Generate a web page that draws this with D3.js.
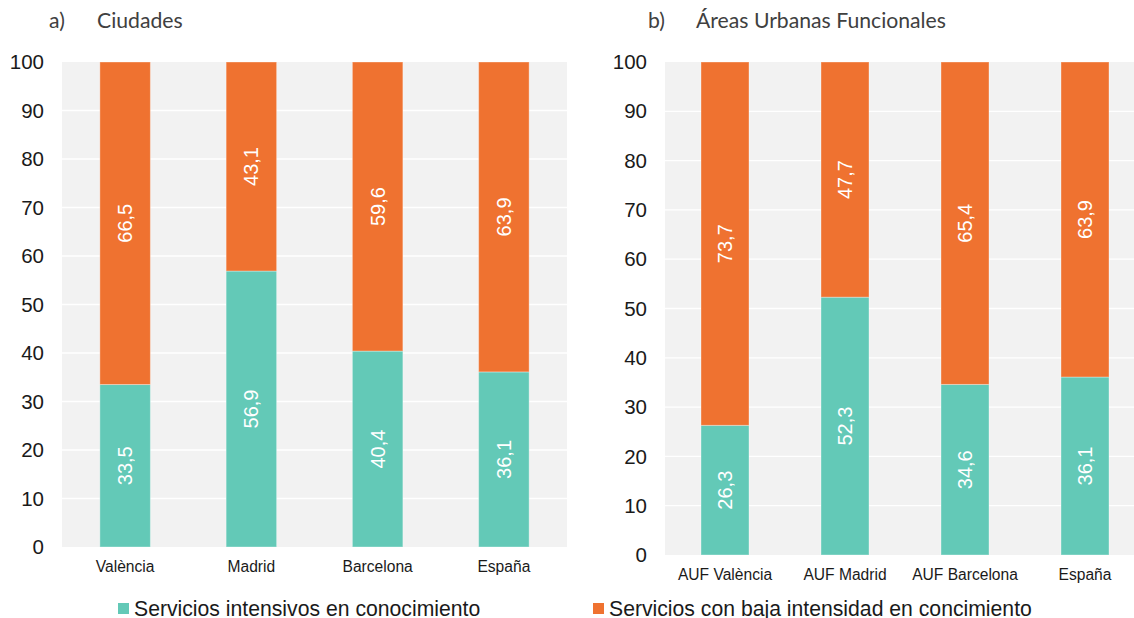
<!DOCTYPE html>
<html>
<head>
<meta charset="utf-8">
<script src="https://cdn.jsdelivr.net/npm/d3@7"></script>
<style>
  body { margin: 0; background: #fff; }
  svg { display: block; }
</style>
</head>
<body>
<div id="chart"></div>
<script>
// Data
const citiesCats = ["València", "Madrid", "Barcelona", "España"];
const citiesHigh = [33.5, 56.9, 40.4, 36.1];
const citiesLow = [66.5, 43.1, 59.6, 63.9];

const aufCats = ["AUF València", "AUF Madrid", "AUF Barcelona", "España"];
const aufHigh = [26.3, 52.3, 34.6, 36.1];
const aufLow = [73.7, 47.7, 65.4, 63.9];

const yTicks = [0, 10, 20, 30, 40, 50, 60, 70, 80, 90, 100];
const seriesNames = ["Servicios intensivos en conocimiento", "Servicios con baja intensidad en concimiento"];
const colors = ["#63c9b7", "#ef7230"];

const width = 1134, height = 618;
const sansFont = "'Liberation Sans', Arial, Helvetica, sans-serif";

const svg = d3.select("#chart")
  .append("svg")
  .attr("width", width)
  .attr("height", height);

// one panel per chart
function drawPanel(opts) {
  const { x0, x1, y0, y1, cats, high, low, letter, title, titleX, letterX, tickRight, labelY } = opts;

  const x = d3.scaleBand()
    .domain(cats)
    .range([x0, x0 + 4 * opts.band])
    .paddingInner(0.6)
    .paddingOuter(0.3);

  const y = d3.scaleLinear()
    .domain([0, 100])
    .range([y1, y0]);

  // background
  svg.append("rect")
    .attr("x", x0)
    .attr("y", y0)
    .attr("width", x1 - x0)
    .attr("height", y1 - y0)
    .attr("fill", "#f2f2f2");

  // grid lines
  svg.append("g")
    .selectAll("line")
    .data(yTicks.filter(d => d > 0 && d < 100))
    .join("line")
    .attr("x1", x0)
    .attr("x2", x1)
    .attr("y1", d => y(d))
    .attr("y2", d => y(d))
    .attr("stroke", "#ffffff")
    .attr("stroke-width", 1.3);

  // tick labels
  svg.append("g")
    .selectAll("text")
    .data(yTicks)
    .join("text")
    .attr("x", tickRight)
    .attr("y", d => y(d))
    .attr("dy", "0.35em")
    .attr("text-anchor", "end")
    .style("font-family", sansFont)
    .style("font-size", "20.5px")
    .attr("fill", "#1a1a1a")
    .text(d => d);

  const rows = cats.map((c, i) => ({ cat: c, high: high[i], low: low[i] }));

  // bars
  const g = svg.append("g");
  g.selectAll("rect.high")
    .data(rows)
    .join("rect")
    .attr("class", "high")
    .attr("x", d => x(d.cat))
    .attr("width", x.bandwidth())
    .attr("y", d => y(d.high))
    .attr("height", d => y(0) - y(d.high))
    .attr("fill", colors[0])
    .attr("stroke", "#ffffff")
    .attr("stroke-opacity", 0.35)
    .attr("stroke-width", 1);

  g.selectAll("rect.low")
    .data(rows)
    .join("rect")
    .attr("class", "low")
    .attr("x", d => x(d.cat))
    .attr("width", x.bandwidth())
    .attr("y", d => y(d.high + d.low))
    .attr("height", d => y(d.high) - y(d.high + d.low))
    .attr("fill", colors[1])
    .attr("stroke", "#ffffff")
    .attr("stroke-opacity", 0.35)
    .attr("stroke-width", 1);

  // value labels (rotated)
  const valueText = (val, mid) => rows.forEach(d => {
    const cx = x(d.cat) + x.bandwidth() / 2;
    const cy = mid(d);
    svg.append("text")
      .attr("transform", `translate(${cx},${cy}) rotate(-90)`)
      .attr("text-anchor", "middle")
      .attr("dy", "0.35em")
      .style("font-family", sansFont)
      .style("font-size", "20px")
      .attr("fill", "#ffffff")
      .text(val(d).toFixed(1).replace(".", ","));
  });
  valueText(d => d.high, d => y(d.high / 2));
  valueText(d => d.low, d => y(d.high + d.low / 2));

  // category labels
  svg.append("g")
    .selectAll("text")
    .data(cats)
    .join("text")
    .attr("x", d => x(d) + x.bandwidth() / 2)
    .attr("y", labelY)
    .attr("text-anchor", "middle")
    .style("font-family", sansFont)
    .style("font-size", "15.6px")
    .attr("fill", "#1a1a1a")
    .text(d => d);

  // panel title
  svg.append("text")
    .attr("x", letterX)
    .attr("y", 28)
    .style("font-family", "Lato, sans-serif")
    .style("font-size", "21.2px")
    .attr("fill", "#404040")
    .text(letter);
  svg.append("text")
    .attr("x", titleX)
    .attr("y", 28)
    .style("font-family", "Lato, sans-serif")
    .style("font-size", "21.2px")
    .attr("fill", "#404040")
    .text(title);
}

drawPanel({
  x0: 62, x1: 567, y0: 62, y1: 547, band: 126.25,
  cats: citiesCats, high: citiesHigh, low: citiesLow,
  letter: "a)", title: "Ciudades", letterX: 49, titleX: 97,
  tickRight: 44, labelY: 572
});

drawPanel({
  x0: 665, x1: 1134, y0: 62, y1: 555, band: 120,
  cats: aufCats, high: aufHigh, low: aufLow,
  letter: "b)", title: "Áreas Urbanas Funcionales", letterX: 648, titleX: 696,
  tickRight: 647, labelY: 580
});

// legend
const legendX = [118, 593];
seriesNames.forEach((name, i) => {
  svg.append("rect")
    .attr("x", legendX[i])
    .attr("y", 603)
    .attr("width", 11)
    .attr("height", 11)
    .attr("fill", colors[i]);
  svg.append("text")
    .attr("x", legendX[i] + 16)
    .attr("y", 616)
    .style("font-family", sansFont)
    .style("font-size", "21.2px")
    .attr("fill", "#1a1a1a")
    .text(name);
});
</script>
</body>
</html>
